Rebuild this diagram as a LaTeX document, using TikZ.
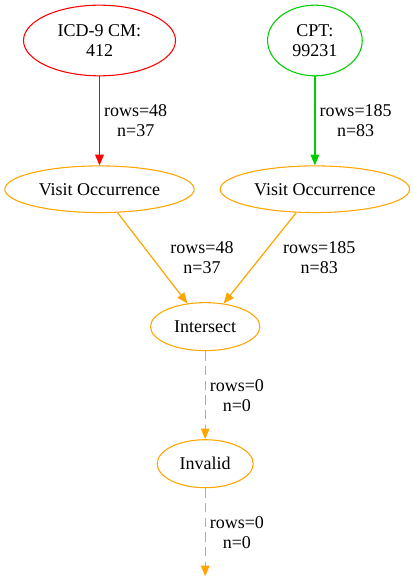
\documentclass[tikz,border=0pt]{standalone}
\usepackage{fontspec}
\setmainfont{Liberation Serif}
\usetikzlibrary{arrows.meta, positioning, calc, shapes.geometric}
\definecolor{vorange}{RGB}{255,165,0}
\definecolor{vgreen}{RGB}{0,205,0}
\tikzstyle{oval}=[draw, ellipse, inner sep=0pt, line width=0.8pt, align=center]
\tikzstyle{op}=[oval, draw=vorange]
\tikzstyle{arr}=[line width=0.9pt, -{Triangle[length=8pt, width=6.5pt]}]
\tikzstyle{dasharr}=[arr, vorange, dash pattern=on 7pt off 4pt]
\tikzstyle{lbl}=[align=center, inner sep=3pt, text=black]

\begin{document}
\begin{tikzpicture}[x=0.75pt, y=-0.75pt, node distance=66.75pt, font=\fontsize{13.5}{15}\selectfont]
    \useasboundingbox (0,0) rectangle (413,580);
    \node [oval, draw=red, minimum width=114pt, minimum height=53pt] (icd) at (99.5,40.5) {ICD-9 CM:\\412};
    \node [oval, draw=vgreen, minimum width=71pt, minimum height=53pt, right=68.25pt of icd] (cpt) {CPT:\\99231};
    \node [op, minimum width=142pt, minimum height=35pt, below=of icd] (vo1) {Visit Occurrence};
    \node [op, minimum width=142pt, minimum height=35pt, below=of cpt] (vo2) {Visit Occurrence};
    \node [op, minimum width=82pt, minimum height=36pt, below=of $(vo1.south)!0.5!(vo2.south)$, xshift=-1.5pt] (inter) {Intersect};
    \node [op, minimum width=72pt, minimum height=36pt, below=66pt of inter] (inv) {Invalid};
    \coordinate [below=66pt of inv] (out);

    \path (icd) edge[arr, red] node[lbl, right] {rows=48\\n=37} (vo1);
    \path (cpt) edge[arr, vgreen] node[lbl, right] {rows=185\\n=83} (vo2);
    \path (vo1) edge[arr, vorange] node[lbl, right=10pt] {rows=48\\n=37} (inter);
    \path (vo2) edge[arr, vorange] node[lbl, right=14pt] {rows=185\\n=83} (inter);
    \path (inter) edge[dasharr] node[lbl, right] {rows=0\\n=0} (inv);
    \path (inv) edge[dasharr] node[lbl, right] {rows=0\\n=0} (out);
\end{tikzpicture}
\end{document}
